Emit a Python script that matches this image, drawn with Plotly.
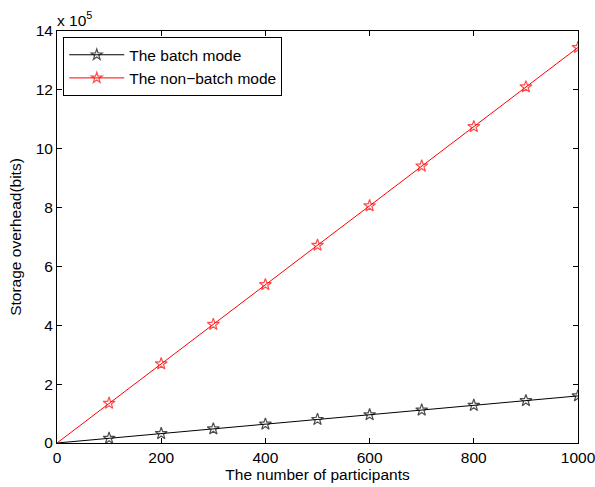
import plotly.graph_objects as go

participants = [0, 100, 200, 300, 400, 500, 600, 700, 800, 900, 1000]
batch = [0, 0.16, 0.32, 0.48, 0.64, 0.80, 0.96, 1.12, 1.28, 1.44, 1.60]          # x 10^5 bits
non_batch = [0, 1.35, 2.69, 4.03, 5.38, 6.72, 8.06, 9.41, 10.75, 12.10, 13.44]   # x 10^5 bits
x_ticks = [0, 200, 400, 600, 800, 1000]
y_ticks = [0, 2, 4, 6, 8, 10, 12, 14]

FONT = "Liberation Sans, Arial, Helvetica, sans-serif"
FS = 15.5
sizes = [0] + [9] * (len(participants) - 1)

fig = go.Figure()
fig.add_trace(go.Scatter(
    x=participants, y=batch, mode="lines+markers", name="The batch mode",
    line=dict(color="black", width=1),
    marker=dict(symbol="star-open", size=sizes, color="black", line=dict(width=1.2)),
))
fig.add_trace(go.Scatter(
    x=participants, y=non_batch, mode="lines+markers", name="The non\u2212batch mode",
    line=dict(color="red", width=1),
    marker=dict(symbol="star-open", size=sizes, color="red", line=dict(width=1.2)),
))

axis_common = dict(
    showline=True, linecolor="black", linewidth=1, mirror="ticks",
    ticks="inside", ticklen=5, tickcolor="black", showgrid=False, zeroline=False,
    tickfont=dict(family=FONT, size=FS, color="black"), automargin=False,
    ticklabeloverflow="allow",
)
fig.update_layout(
    width=595, height=487,
    margin=dict(l=57, r=17, t=31, b=44),
    paper_bgcolor="white", plot_bgcolor="white",
    font=dict(family=FONT, size=FS, color="black"),
    xaxis=dict(range=[0, 1000], tickvals=x_ticks,
               title=dict(text="The number of participants", standoff=3,
                          font=dict(family=FONT, size=FS)), **axis_common),
    yaxis=dict(range=[0, 14], tickvals=y_ticks,
               title=dict(text="Storage overhead(bits)", standoff=10,
                          font=dict(family=FONT, size=FS)), **axis_common),
    legend=dict(x=0.012, y=0.985, xanchor="left", yanchor="top",
                bordercolor="black", borderwidth=1, bgcolor="white",
                font=dict(family=FONT, size=FS), itemwidth=55,
                tracegroupgap=0),
    showlegend=True,
    annotations=[dict(text="x 10<sup>5</sup>", xref="paper", yref="paper",
                      x=0, y=1, xanchor="left", yanchor="bottom", showarrow=False,
                      font=dict(family=FONT, size=FS), yshift=0, xshift=-2)],
)

fig.write_html("out.html", config={"displayModeBar": False},
               post_script="document.body.style.margin='0';document.body.style.overflow='hidden';")
